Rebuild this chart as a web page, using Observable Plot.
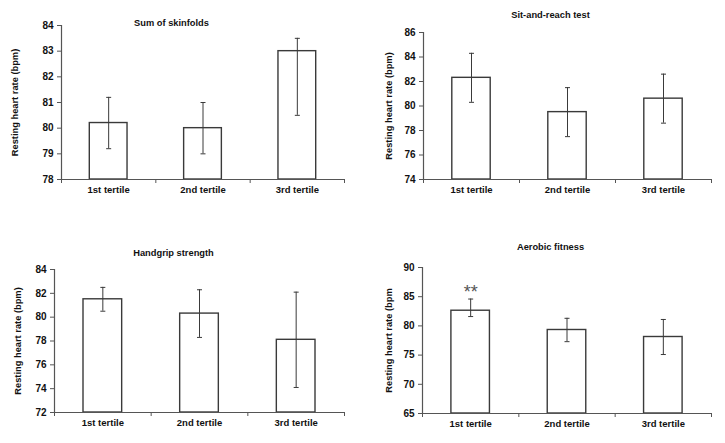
<!DOCTYPE html>
<html>
<head>
<meta charset="utf-8">
<script src="https://cdn.jsdelivr.net/npm/d3@7"></script>
<script src="https://cdn.jsdelivr.net/npm/@observablehq/plot@0.6"></script>
<style>
  html, body { margin: 0; padding: 0; background: #fff; }
  #wrap { position: relative; width: 725px; height: 443px; overflow: hidden; }
  .panel { position: absolute; }
  svg { font-family: "Liberation Sans", Arial, sans-serif; }
</style>
</head>
<body>
<div id="wrap"></div>
<script>
const categories = ["1st tertile", "2nd tertile", "3rd tertile"];

const titles = ["Sum of skinfolds", "Sit-and-reach test", "Handgrip strength", "Aerobic fitness"];
const yLabels = ["Resting heart rate (bpm)", "Resting heart rate (bpm)", "Resting heart rate (bpm)", "Resting heart rate (bpm"];

const skinfoldsMean = [80.2, 80.0, 83.0];
const skinfoldsLow  = [79.2, 79.0, 80.5];
const skinfoldsHigh = [81.2, 81.0, 83.5];

const sitReachMean = [82.3, 79.5, 80.6];
const sitReachLow  = [80.3, 77.5, 78.6];
const sitReachHigh = [84.3, 81.5, 82.6];

const handgripMean = [81.5, 80.3, 78.1];
const handgripLow  = [80.5, 78.3, 74.1];
const handgripHigh = [82.5, 82.3, 82.1];

const aerobicMean = [82.6, 79.3, 78.1];
const aerobicLow  = [81.6, 77.3, 75.1];
const aerobicHigh = [84.6, 81.3, 81.1];
const aerobicMarks = ["**", "", ""];

const yDomains = [[78, 84], [74, 86], [72, 84], [65, 90]];
const yTicks = [
  [78, 79, 80, 81, 82, 83, 84],
  [74, 76, 78, 80, 82, 84, 86],
  [72, 74, 76, 78, 80, 82, 84],
  [65, 70, 75, 80, 85, 90]
];

const series = [
  {mean: skinfoldsMean, lo: skinfoldsLow, hi: skinfoldsHigh, marks: ["", "", ""]},
  {mean: sitReachMean, lo: sitReachLow, hi: sitReachHigh, marks: ["", "", ""]},
  {mean: handgripMean, lo: handgripLow, hi: handgripHigh, marks: ["", "", ""]},
  {mean: aerobicMean, lo: aerobicLow, hi: aerobicHigh, marks: aerobicMarks}
];

// layout (pixels)
const layouts = [
  {left: 0,   top: 0,   width: 362, height: 221, mt: 25, mb: 42, ml: 61, mr: 18, titleY: 23, titleX: 171, labelX: -46},
  {left: 362, top: 0,   width: 363, height: 221, mt: 32, mb: 42, ml: 61, mr: 14, titleY: 15, titleX: 188, labelX: -34},
  {left: 0,   top: 221, width: 362, height: 222, mt: 48, mb: 31, ml: 54, mr: 18, titleY: 32, titleX: 173, labelX: -36},
  {left: 362, top: 221, width: 363, height: 222, mt: 46, mb: 30, ml: 60, mr: 14, titleY: 26, titleX: 188, labelX: -33}
];

const capSymbol = {
  draw(context, size) {
    const r = 2.5;
    context.moveTo(-r, 0);
    context.lineTo(r, 0);
  }
};

const wrap = document.getElementById("wrap");
const FS = 9.5;

series.forEach((s, k) => {
  const L = layouts[k];
  const data = categories.map((c, i) => ({i, c, mean: s.mean[i], lo: s.lo[i], hi: s.hi[i], mark: s.marks[i]}));
  const ymin = yDomains[k][0];
  const chart = Plot.plot({
    width: L.width,
    height: L.height,
    marginTop: L.mt,
    marginBottom: L.mb,
    marginLeft: L.ml,
    marginRight: L.mr,
    style: {fontFamily: "Liberation Sans, Arial, sans-serif", background: "white"},
    x: {domain: [0, 3]},
    y: {domain: yDomains[k]},
    marks: [
      Plot.rectY(data, {x1: d => d.i + 0.3, x2: d => d.i + 0.7, y1: ymin, y2: "mean", fill: "white", stroke: "#3a3a3a", strokeWidth: 1.4}),
      Plot.ruleX(data, {x: d => d.i + 0.5, y1: "lo", y2: "hi", stroke: "#3a3a3a", strokeWidth: 1}),
      Plot.dot(data, {x: d => d.i + 0.5, y: "lo", symbol: capSymbol, stroke: "#3a3a3a", strokeWidth: 1, r: 3}),
      Plot.dot(data, {x: d => d.i + 0.5, y: "hi", symbol: capSymbol, stroke: "#3a3a3a", strokeWidth: 1, r: 3}),
      Plot.text(data, {x: d => d.i + 0.5, y: "hi", text: "mark", dy: -7, fontSize: 18, fill: "#555"}),
      Plot.ruleY([ymin], {stroke: "#555", strokeWidth: 1.2}),
      Plot.ruleX([0], {stroke: "#555", strokeWidth: 1.2}),
      Plot.axisY({ticks: yTicks[k], tickFormat: d3.format("d"), tickSize: 4, tickPadding: 4, fontSize: FS + 0.5, fontWeight: "bold", stroke: "#555", fill: "#111", label: null}),
      Plot.axisX({ticks: [0, 1, 2, 3], tickSize: 4, tickFormat: () => "", stroke: "#555", label: null}),
      Plot.axisX({ticks: [0.5, 1.5, 2.5], tickSize: 0, tickPadding: 7, tickFormat: d => categories[Math.floor(d)], fontSize: FS, fontWeight: "bold", fill: "#111", label: null}),
      Plot.text([titles[k]], {frameAnchor: "top-left", dx: L.titleX - L.ml, dy: L.titleY - L.mt, text: d => d, textAnchor: "middle", lineAnchor: "middle", fontSize: 9.3, fontWeight: "bold", fill: "#111"}),
      Plot.text([yLabels[k]], {frameAnchor: "left", dx: L.labelX, rotate: -90, text: d => d, textAnchor: "middle", lineAnchor: "middle", fontSize: 9.3, fontWeight: "bold", fill: "#111"})
    ]
  });
  chart.classList.add("panel");
  chart.style.left = L.left + "px";
  chart.style.top = L.top + "px";
  wrap.appendChild(chart);
});
</script>
</body>
</html>
